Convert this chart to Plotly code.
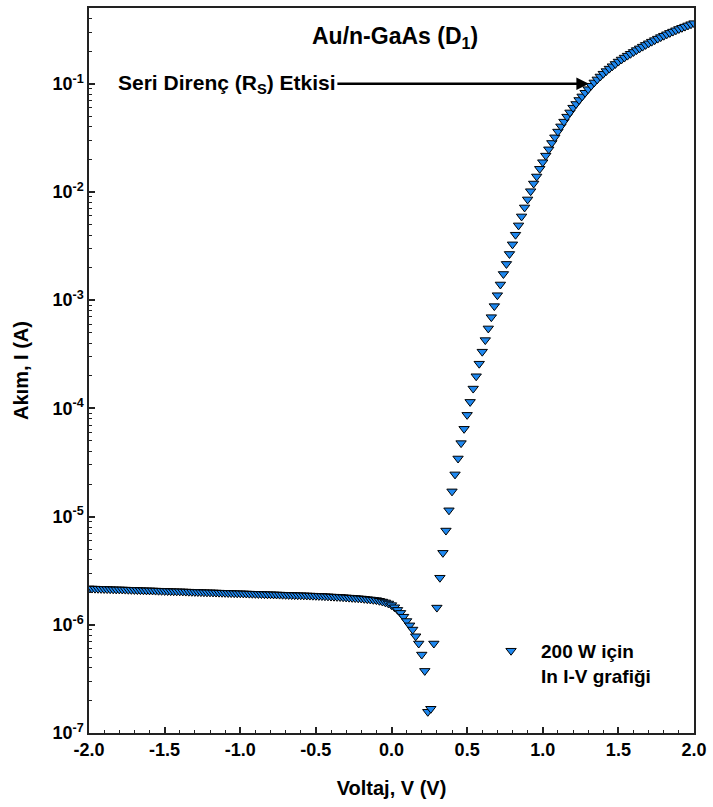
import plotly.graph_objects as go

# Voltage sweep (V)
voltage = [
    -2.00, -1.98, -1.96, -1.94, -1.92, -1.90, -1.88, -1.86, -1.84, -1.82,
    -1.80, -1.78, -1.76, -1.74, -1.72, -1.70, -1.68, -1.66, -1.64, -1.62,
    -1.60, -1.58, -1.56, -1.54, -1.52, -1.50, -1.48, -1.46, -1.44, -1.42,
    -1.40, -1.38, -1.36, -1.34, -1.32, -1.30, -1.28, -1.26, -1.24, -1.22,
    -1.20, -1.18, -1.16, -1.14, -1.12, -1.10, -1.08, -1.06, -1.04, -1.02,
    -1.00, -0.98, -0.96, -0.94, -0.92, -0.90, -0.88, -0.86, -0.84, -0.82,
    -0.80, -0.78, -0.76, -0.74, -0.72, -0.70, -0.68, -0.66, -0.64, -0.62,
    -0.60, -0.58, -0.56, -0.54, -0.52, -0.50, -0.48, -0.46, -0.44, -0.42,
    -0.40, -0.38, -0.36, -0.34, -0.32, -0.30, -0.28, -0.26, -0.24, -0.22,
    -0.20, -0.18, -0.16, -0.14, -0.12, -0.10, -0.08, -0.06, -0.04, -0.02,
    0.00, 0.02, 0.04, 0.06, 0.08, 0.10, 0.12, 0.14, 0.16, 0.18,
    0.20, 0.22, 0.24, 0.26, 0.28, 0.30, 0.32, 0.34, 0.36, 0.38,
    0.40, 0.42, 0.44, 0.46, 0.48, 0.50, 0.52, 0.54, 0.56, 0.58,
    0.60, 0.62, 0.64, 0.66, 0.68, 0.70, 0.72, 0.74, 0.76, 0.78,
    0.80, 0.82, 0.84, 0.86, 0.88, 0.90, 0.92, 0.94, 0.96, 0.98,
    1.00, 1.02, 1.04, 1.06, 1.08, 1.10, 1.12, 1.14, 1.16, 1.18,
    1.20, 1.22, 1.24, 1.26, 1.28, 1.30, 1.32, 1.34, 1.36, 1.38,
    1.40, 1.42, 1.44, 1.46, 1.48, 1.50, 1.52, 1.54, 1.56, 1.58,
    1.60, 1.62, 1.64, 1.66, 1.68, 1.70, 1.72, 1.74, 1.76, 1.78,
    1.80, 1.82, 1.84, 1.86, 1.88, 1.90, 1.92, 1.94, 1.96, 1.98,
    2.00,
]

log_current = [
    -5.664, -5.665, -5.666, -5.667, -5.668, -5.669, -5.670, -5.671, -5.672, -5.673,
    -5.673, -5.674, -5.675, -5.676, -5.677, -5.678, -5.679, -5.680, -5.681, -5.682,
    -5.682, -5.683, -5.684, -5.685, -5.686, -5.687, -5.688, -5.689, -5.690, -5.691,
    -5.691, -5.692, -5.693, -5.694, -5.695, -5.696, -5.697, -5.698, -5.699, -5.700,
    -5.700, -5.701, -5.702, -5.703, -5.704, -5.705, -5.706, -5.707, -5.708, -5.709,
    -5.709, -5.710, -5.711, -5.712, -5.713, -5.714, -5.715, -5.716, -5.717, -5.718,
    -5.718, -5.719, -5.720, -5.721, -5.722, -5.723, -5.724, -5.725, -5.726, -5.727,
    -5.727, -5.728, -5.729, -5.730, -5.731, -5.732, -5.733, -5.734, -5.736, -5.737,
    -5.739, -5.740, -5.742, -5.743, -5.745, -5.747, -5.749, -5.751, -5.753, -5.755,
    -5.757, -5.760, -5.763, -5.766, -5.769, -5.772, -5.778, -5.785, -5.793, -5.803,
    -5.818, -5.838, -5.862, -5.890, -5.925, -5.965, -6.005, -6.044, -6.106, -6.173,
    -6.275, -6.426, -6.804, -6.776, -6.173, -5.841, -5.565, -5.335, -5.129, -4.942,
    -4.767, -4.610, -4.463, -4.321, -4.189, -4.060, -3.940, -3.817, -3.703, -3.587,
    -3.476, -3.369, -3.261, -3.157, -3.055, -2.954, -2.855, -2.758, -2.665, -2.573,
    -2.484, -2.395, -2.309, -2.226, -2.143, -2.069, -1.993, -1.922, -1.857, -1.786,
    -1.725, -1.664, -1.606, -1.547, -1.495, -1.442, -1.394, -1.350, -1.304, -1.265,
    -1.221, -1.187, -1.150, -1.117, -1.083, -1.050, -1.018, -0.988, -0.960, -0.933,
    -0.907, -0.883, -0.860, -0.838, -0.817, -0.795, -0.776, -0.758, -0.740, -0.723,
    -0.706, -0.689, -0.673, -0.657, -0.641, -0.626, -0.611, -0.597, -0.583, -0.569,
    -0.556, -0.543, -0.530, -0.518, -0.506, -0.494, -0.483, -0.472, -0.461, -0.450,
    -0.440,
]

current = [10 ** v for v in log_current]

x_tick_vals = [-2.0, -1.5, -1.0, -0.5, 0.0, 0.5, 1.0, 1.5, 2.0]
x_tick_text = ["-2.0", "-1.5", "-1.0", "-0.5", "0.0", "0.5", "1.0", "1.5", "2.0"]
y_tick_vals = [1e-7, 1e-6, 1e-5, 1e-4, 1e-3, 1e-2, 1e-1]
y_tick_text = ["10<sup>-7</sup>", "10<sup>-6</sup>", "10<sup>-5</sup>", "10<sup>-4</sup>",
               "10<sup>-3</sup>", "10<sup>-2</sup>", "10<sup>-1</sup>"]
y_minor_vals = [m * 10.0 ** e for e in range(-7, 0) for m in range(2, 10)]
x_minor_vals = [round(-2.0 + 0.1 * i, 1) for i in range(41)]

FONT = "Liberation Sans, Arial, sans-serif"

fig = go.Figure()
fig.add_trace(go.Scatter(
    x=voltage, y=current, mode="markers",
    name="200 W için<br>In I-V grafiği",
    marker=dict(symbol="triangle-down", size=9, color="#1e88f0",
                line=dict(color="#000000", width=1)),
))

fig.update_layout(
    width=713, height=807,
    margin=dict(l=89, r=15, t=6, b=74),
    plot_bgcolor="white", paper_bgcolor="white",
    font=dict(family=FONT, size=18, color="black", weight="bold"),
    showlegend=True,
    legend=dict(x=0.648, y=0.1395, xanchor="left", yanchor="top",
                bgcolor="rgba(0,0,0,0)", valign="top", itemwidth=50,
                font=dict(family=FONT, size=19, color="black", weight="bold")),
    xaxis=dict(
        range=[-2.0, 2.0], showline=True, linecolor="#222", linewidth=1.5, mirror=True,
        showgrid=False, zeroline=False,
        ticks="inside", ticklen=6, tickwidth=1.5, tickcolor="#222",
        tickvals=x_tick_vals, ticktext=x_tick_text,
        tickfont=dict(family=FONT, size=18, weight="bold"),
        minor=dict(tickvals=x_minor_vals, ticks="inside", ticklen=3, tickwidth=1.2, tickcolor="#222"),
        title=dict(text="Voltaj, V (V)", font=dict(family=FONT, size=20, weight="bold"), standoff=22),
    ),
    yaxis=dict(
        type="log", range=[-7.0, -0.30], showline=True, linecolor="#222", linewidth=1.5, mirror=True,
        showgrid=False, zeroline=False,
        ticks="inside", ticklen=6, tickwidth=1.5, tickcolor="#222",
        tickvals=y_tick_vals, ticktext=y_tick_text,
        tickfont=dict(family=FONT, size=18, weight="bold"),
        minor=dict(tickvals=y_minor_vals, ticks="inside", ticklen=3, tickwidth=1.2, tickcolor="#222"),
        title=dict(text="Akım, I (A)", font=dict(family=FONT, size=20, weight="bold"), standoff=18),
    ),
)

fig.add_annotation(
    xref="paper", yref="paper", x=0.505, y=0.96, yanchor="middle", showarrow=False,
    text="Au/n-GaAs (D<sub>1</sub>)",
    font=dict(family=FONT, size=23, color="black", weight="bold"),
)
fig.add_annotation(
    x=1.305, y=-1.0, xref="x", yref="y",
    text="Seri Direnç (R<sub>S</sub>) Etkisi",
    showarrow=True, arrowhead=2, arrowsize=1, arrowwidth=2.5, arrowcolor="black",
    ax=-362, ay=0,
    font=dict(family=FONT, size=21, color="black", weight="bold"),
)

fig.write_html("out.html")
